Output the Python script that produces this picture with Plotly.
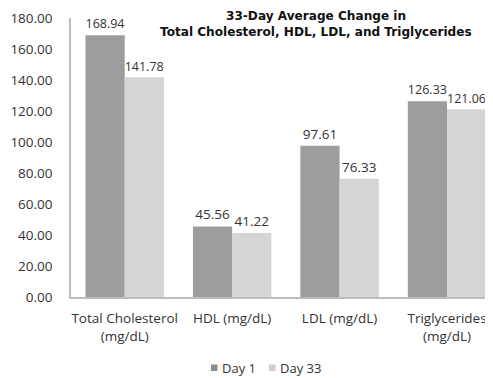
import plotly.graph_objects as go

categories = ["Total Cholesterol<br>(mg/dL)", "HDL (mg/dL)", "LDL (mg/dL)", "Triglycerides<br>(mg/dL)"]
day1 = [168.94, 45.56, 97.61, 126.33]
day33 = [141.78, 41.22, 76.33, 121.06]
series_names = ["Day 1", "Day 33"]
ytick_vals = [0, 20, 40, 60, 80, 100, 120, 140, 160, 180]
title_lines = ["33-Day Average Change in", "Total Cholesterol, HDL, LDL, and Triglycerides"]

font_main = "Open Sans"
text_col = "#333333"
fs = 13.5
colors = ["#9d9d9d", "#d5d5d5"]
legend_sym_colors = ["#8c8c8c", "#cfcfcf"]

# page has an 8px body margin: figure is sized so it fits the 493x378 window
W, H = 485, 370
L, R, T, B = 63, 3, 10, 81
plot_h = H - T - B
plot_w = W - L - R


def px(fx):
    return (fx - L) / plot_w


def py(fy):
    return (H - B - fy) / plot_h


fig = go.Figure()
for name, vals, col in zip(series_names, [day1, day33], colors):
    fig.add_trace(go.Bar(
        x=categories, y=vals, name=name,
        marker=dict(color=col, line=dict(width=0)),
        text=[f"{v:.2f}" for v in vals], textposition="outside",
        textfont=dict(family=font_main, size=fs, color=text_col),
        cliponaxis=False, showlegend=False,
    ))

annotations = []
for i, line in enumerate(title_lines):
    annotations.append(dict(
        text=f"<b>{line}</b>", x=px(308), xref="paper",
        y=py(8 + 16 * i), yref="paper",
        xanchor="center", yanchor="middle", showarrow=False,
        font=dict(family="DejaVu Sans", size=12.1, color="#111111"),
    ))

# legend drawn as small squares + text (matching the reference's compact legend)
shapes = []
legend_sym_x = [203, 261]
legend_y = 359.5
for name, col, sx in zip(series_names, legend_sym_colors, legend_sym_x):
    shapes.append(dict(type="rect", xref="paper", yref="paper",
                       x0=px(sx), x1=px(sx + 6.5), y0=py(legend_y + 3.5), y1=py(legend_y - 3),
                       fillcolor=col, line=dict(width=0)))
    annotations.append(dict(
        text=name, x=px(sx + 9.5), xref="paper", y=py(legend_y), yref="paper",
        xanchor="left", yanchor="middle", showarrow=False, borderpad=0,
        font=dict(family=font_main, size=13, color=text_col),
    ))

fig.update_layout(
    width=W, height=H,
    margin=dict(l=L, r=R, t=T, b=B, autoexpand=False),
    paper_bgcolor="white", plot_bgcolor="white",
    barmode="group", bargap=0.27, bargroupgap=0,
    font=dict(family=font_main, size=fs, color=text_col),
    showlegend=False,
    annotations=annotations,
    shapes=shapes,
)

fig.update_xaxes(
    range=[-0.5, 3.4], showline=True, linecolor="#bdbdbd", linewidth=1.5,
    ticks="", showgrid=False, automargin=False, ticklabelstandoff=8,
    tickfont=dict(family=font_main, size=fs, color=text_col),
)
fig.update_yaxes(
    range=[0, 180], tickvals=ytick_vals, ticktext=[f"{v:.2f}" for v in ytick_vals],
    showline=True, linecolor="#bdbdbd", linewidth=1.5, showgrid=False, zeroline=False,
    ticks="", ticklabelstandoff=14, automargin=False,
    tickfont=dict(family=font_main, size=fs, color=text_col),
)

fig.write_html("out.html")
